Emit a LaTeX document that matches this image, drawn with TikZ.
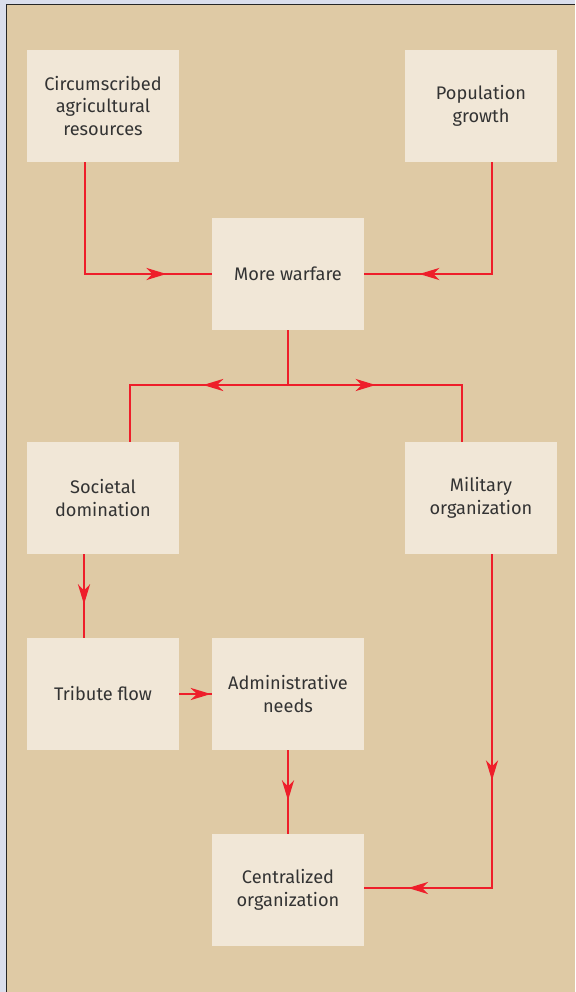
\documentclass[tikz,border=0pt]{standalone}
\usepackage{fontspec}
\setmainfont{Fira Sans}
\usetikzlibrary{arrows.meta,decorations.markings}

\definecolor{paper}{HTML}{DFCAA5}
\definecolor{boxfill}{HTML}{F1E7D7}
\definecolor{linkred}{HTML}{EE1E2A}
\definecolor{margin}{HTML}{DADEEC}
\definecolor{inktext}{HTML}{333333}

\begin{document}
\begin{tikzpicture}[x=1pt,y=-1pt,
	box/.style={fill=boxfill,minimum width=152pt,minimum height=112pt,align=center,
		inner sep=0pt,font=\fontsize{18.2}{22.5}\selectfont,text=inktext},
	link/.style={draw=linkred,line width=2.8pt},
	arrowat/.style={postaction={decorate,decoration={markings,
		mark=at position #1 with {\arrow{Stealth[length=20pt,width=12pt,inset=6pt]}}}}}]
	\useasboundingbox (0,0) rectangle (575,992);
	% page and frame
	\fill[margin] (0,0) rectangle (575,992);
	\fill[paper] (7,5) rectangle (575,992);
	\draw[black!85,line width=1.5pt] (6.5,992) -- (6.5,4.5) -- (575,4.5);

	\node[box] (circ) at (103,106) {Circumscribed\\agricultural\\resources};
	\node[box] (pop) at (481,106) {Population\\growth};
	\node[box] (war) at (288,274) {More warfare};
	\node[box] (dom) at (103,498) {Societal\\domination};
	\node[box] (mil) at (481,498) {Military\\organization};
	\node[box] (trib) at (103,694) {Tribute flow};
	\node[box] (adm) at (288,694) {Administrative\\needs};
	\node[box] (cent) at (288,890) {Centralized\\organization};

	\coordinate (split) at (288,385);

	% warfare causes
	\draw[link,arrowat=0.81] ([xshift=-18pt]circ.south) |- (war.west);
	\draw[link,arrowat=0.77] ([xshift=11pt]pop.south) |- (war.east);

	% branching from warfare
	\draw[link] (war.south) -- (split);
	\draw[link,arrowat=0.395] (split) -| (dom.north -| 130,0);
	\draw[link,arrowat=0.38] (split) -| (mil.north -| 462,0);

	% towards centralization
	\draw[link,arrowat=0.6] ([xshift=-19pt]dom.south) -- ([xshift=-19pt]trib.north);
	\draw[link,arrowat=0.97] (trib.east) -- (adm.west);
	\draw[link,arrowat=0.6] (adm.south) -- (cent.north);
	\draw[link,arrowat=0.49,arrowat=0.905] ([xshift=11pt]mil.south) |- ([yshift=2pt]cent.east);
\end{tikzpicture}
\end{document}
